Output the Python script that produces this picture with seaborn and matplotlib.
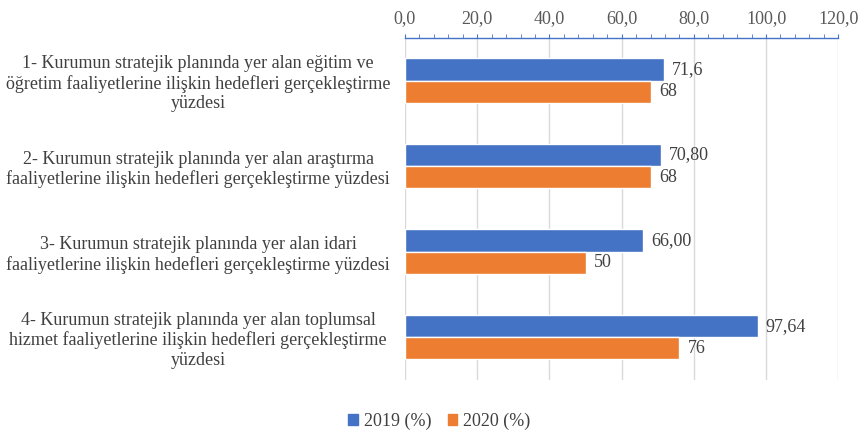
import matplotlib
matplotlib.use("Agg")
import matplotlib.pyplot as plt
from matplotlib.ticker import MultipleLocator, FuncFormatter
import seaborn as sns
import pandas as pd

categories = [
    "1- Kurumun stratejik planında yer alan eğitim ve\nöğretim faaliyetlerine ilişkin hedefleri gerçekleştirme\nyüzdesi",
    "2- Kurumun stratejik planında yer alan araştırma\nfaaliyetlerine ilişkin hedefleri gerçekleştirme yüzdesi",
    "3- Kurumun stratejik planında yer alan idari\nfaaliyetlerine ilişkin hedefleri gerçekleştirme yüzdesi",
    "4- Kurumun stratejik planında yer alan toplumsal\nhizmet faaliyetlerine ilişkin hedefleri gerçekleştirme\nyüzdesi",
]
years = ["2019 (%)", "2020 (%)"]
values_2019 = [71.6, 70.80, 66.00, 97.64]
values_2020 = [68, 68, 50, 76]
labels_2019 = ["71,6", "70,80", "66,00", "97,64"]
labels_2020 = ["68", "68", "50", "76"]
colors = ["#4472C4", "#ED7D31"]

df = pd.DataFrame({
    "kategori": categories * 2,
    "yil": [years[0]] * 4 + [years[1]] * 4,
    "deger": values_2019 + values_2020,
})

sns.set_style("white")
plt.rcParams["font.family"] = ["Liberation Serif", "DejaVu Serif"]
text_gray = "#404040"
fs = 13

fig = plt.figure(figsize=(8.58, 4.46), dpi=100)
ax = fig.add_axes([0.472, 0.148, 0.505, 0.767])

sns.barplot(data=df, x="deger", y="kategori", hue="yil", orient="h",
            palette=colors, saturation=1, width=0.52, ax=ax, legend=False)

for cont, labs in zip(ax.containers, [labels_2019, labels_2020]):
    ax.bar_label(cont, labels=labs, padding=6, fontsize=fs, color=text_gray)

ax.set_xlim(0, 120)
ax.xaxis.set_major_locator(MultipleLocator(20))
ax.xaxis.set_minor_locator(MultipleLocator(4))
ax.xaxis.set_major_formatter(FuncFormatter(lambda v, p: f"{v:.1f}".replace(".", ",")))
ax.xaxis.tick_top()
ax.tick_params(axis="x", which="both", direction="out", color="#4472C4",
               labelcolor="#595959", labelsize=fs, pad=5)
ax.tick_params(axis="x", which="major", length=3)
ax.tick_params(axis="x", which="minor", length=3)
ax.grid(axis="x", which="major", color="#D9D9D9", linewidth=1)
ax.set_axisbelow(True)

for s in ["left", "right", "bottom"]:
    ax.spines[s].set_visible(False)
ax.spines["top"].set_color("#4472C4")
ax.spines["top"].set_linewidth(1)

ax.set_xlabel("")
ax.set_ylabel("")
ax.set_yticks(range(len(categories)))
ax.set_yticklabels(categories, ha="center", multialignment="center",
                   fontsize=fs, color=text_gray, linespacing=1.18)
ax.tick_params(axis="y", length=0, pad=149)

handles = [plt.Rectangle((0, 0), 1, 1, color=c) for c in colors]
fig.legend(handles, years, loc="lower center", bbox_to_anchor=(0.512, 0.0),
           ncol=2, frameon=False, handlelength=0.55, handleheight=0.55,
           handletextpad=0.3, columnspacing=0.9, fontsize=fs,
           labelcolor=text_gray)

fig.savefig("out.png", dpi=100)
